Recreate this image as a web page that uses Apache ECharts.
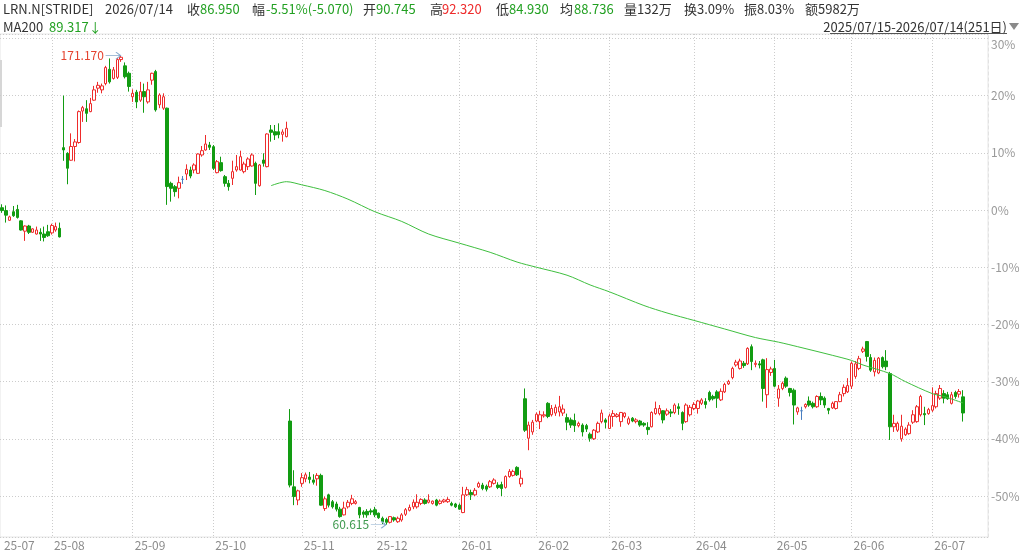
<!DOCTYPE html>
<html>
<head>
<meta charset="utf-8">
<script src="https://cdn.jsdelivr.net/npm/echarts@6/dist/echarts.min.js"></script>
<style>html,body{margin:0;padding:0;background:#fff;}#c{width:1024px;height:553px;}</style>
</head>
<body>
<div id="c"></div>
<script>
// ---------- data ----------
const basePrice = 134.7795; // price at 0%
const tradingDays = {
  '2025-07': [15,16,17,18,21,22,23,24,25,28,29,30,31],
  '2025-08': [1,4,5,6,7,8,11,12,13,14,15,18,19,20,21,22,25,26,27,28,29],
  '2025-09': [2,3,4,5,8,9,10,11,12,15,16,17,18,19,22,23,24,25,26,29,30],
  '2025-10': [1,2,3,6,7,8,9,10,13,14,15,16,17,20,21,22,23,24,27,28,29,30,31],
  '2025-11': [3,4,5,6,7,10,11,12,13,14,17,18,19,20,21,24,25,26,28],
  '2025-12': [1,2,3,4,5,8,9,10,11,12,15,16,17,18,19,22,23,24,26,29,30,31],
  '2026-01': [2,5,6,7,8,9,12,13,14,15,16,20,21,22,23,26,27,28,29,30],
  '2026-02': [2,3,4,5,6,9,10,11,12,13,17,18,19,20,23,24,25,26,27],
  '2026-03': [2,3,4,5,6,9,10,11,12,13,16,17,18,19,20,23,24,25,26,27,30,31],
  '2026-04': [1,2,6,7,8,9,10,13,14,15,16,17,20,21,22,23,24,27,28,29,30],
  '2026-05': [1,4,5,6,7,8,11,12,13,14,15,18,19,20,21,22,26,27,28,29],
  '2026-06': [1,2,3,4,5,8,9,10,11,12,15,16,17,18,22,23,24,25,26,29,30],
  '2026-07': [1,2,6,7,8,9,10,13,14]
};

// percent change vs base, per trading day
const openPct = [
  0.4, -0.1, -1.8, -0.3, 0.1, -1.9, -3.7, -2.8, -3.9, -4.2,
  -3.9, -4.2, -3.8, -4.0, -3.5, -3.2, 10.9, 9.9, 8.7, 11.1,
  11.8, 17.3, 17.7, 17.2, 19.2, 21.3, 21.0, 22.1, 24.6, 23.0,
  23.2, 26.3, 25.2, 23.9, 19.8, 20.6, 19.2, 20.7, 18.9, 22.7,
  24.2, 18.4, 17.8, 17.8, 4.66, 4.08, 3.79, 5.36, 6.29, 6.99,
  6.99, 6.41, 9.62, 10.49, 11.36, 11.07, 6.53, 8.28, 5.83, 4.66,
  5.54, 6.99, 6.99, 6.70, 7.58, 7.69, 8.16, 4.25, 8.74, 7.58,
  13.99, 13.69, 13.69, 13.23, 12.82, -36.9, -48.4, -50.7, -47.8, -47.0,
  -46.7, -47.2, -47.0, -46.4, -52.2, -49.8, -51.0, -51.4, -52.3, -53.3,
  -51.9, -51.3, -51.3, -52.0, -52.8, -52.7, -52.6, -52.4, -53.0, -53.9,
  -54.1, -54.6, -53.8, -54.5, -54.2, -53.2, -52.5, -51.9, -51.9, -51.3,
  -50.7, -51.1, -51.3, -50.7, -51.3, -51.0, -51.0, -51.3, -51.4, -51.6,
  -52.9, -49.8, -49.4, -49.8, -48.4, -48.1, -48.3, -48.4, -47.8, -48.1,
  -48.0, -48.5, -46.6, -46.4, -45.0, -47.9, -33.0, -39.9, -38.8, -36.9,
  -37.0, -36.0, -33.8, -35.8, -35.5, -35.3, -35.5, -36.3, -36.7, -36.8,
  -37.7, -37.6, -37.7, -39.2, -40.0, -38.8, -37.0, -36.7, -38.2, -36.1,
  -36.1, -37.0, -36.1, -37.3, -36.4, -37.0, -36.9, -37.3, -38.0, -37.9,
  -35.6, -35.6, -35.1, -35.7, -35.3, -35.4, -34.4, -35.4, -37.0, -35.8,
  -34.7, -34.7, -33.8, -33.5, -31.9, -32.6, -31.8, -33.2, -31.8, -30.4,
  -29.3, -27.1, -27.7, -26.8, -26.9, -23.9, -27.0, -26.9, -26.2, -32.3,
  -28.4, -27.7, -32.9, -31.2, -29.4, -31.2, -31.5, -35.3, -35.1, -34.4,
  -33.4, -33.8, -34.4, -32.6, -32.9, -34.7, -34.6, -34.7, -33.5, -32.1,
  -31.8, -30.8, -29.1, -27.7, -24.7, -23.0, -25.8, -28.3, -28.5, -25.8,
  -26.4, -28.6, -37.9, -38.5, -40.0, -39.3, -39.1, -37.1, -37.0, -35.8,
  -35.6, -35.6, -35.0, -34.4, -32.9, -32.1, -32.3, -33.8, -31.9, -32.2,
  -32.67
];
const highPct = [
  1.0, 0.8, -1.0, 0.7, 0.9, -1.8, -2.7, -2.6, -3.2, -2.9,
  -3.2, -2.9, -2.6, -2.4, -2.2, -2.2, 20.0, 10.1, 13.4, 12.4,
  17.4, 18.2, 19.2, 19.6, 21.7, 22.4, 22.1, 25.2, 26.5, 25.0,
  26.6, 27.0, 25.8, 24.2, 21.1, 21.0, 22.4, 22.1, 22.4, 24.0,
  24.5, 20.4, 20.4, 17.9, 4.95, 4.37, 5.83, 5.94, 7.98, 7.58,
  8.16, 9.9, 11.19, 13.11, 11.9, 11.36, 8.74, 9.32, 6.12, 5.24,
  8.62, 9.62, 10.37, 8.45, 9.21, 9.91, 8.45, 8.04, 9.91, 13.4,
  14.86, 14.86, 15.15, 14.10, 15.44, -34.8, -45.5, -48.9, -46.0, -45.9,
  -45.8, -46.2, -46.0, -46.1, -50.1, -49.6, -50.7, -51.0, -51.9, -51.0,
  -50.7, -49.8, -50.7, -51.9, -52.5, -52.3, -52.2, -51.9, -52.9, -53.6,
  -53.8, -53.5, -53.6, -53.6, -53.0, -52.1, -51.5, -50.6, -49.7, -50.4,
  -50.4, -49.7, -50.8, -50.5, -50.6, -50.5, -50.2, -51.0, -51.2, -51.3,
  -48.4, -48.4, -48.9, -48.6, -47.5, -47.7, -48.0, -47.2, -46.9, -47.6,
  -47.5, -46.4, -45.3, -45.4, -44.8, -45.5, -31.2, -37.0, -36.7, -35.4,
  -35.1, -35.2, -33.6, -34.1, -34.0, -32.5, -34.0, -35.6, -36.3, -35.6,
  -37.0, -37.3, -37.4, -38.9, -38.3, -37.0, -34.9, -36.4, -35.6, -35.0,
  -35.5, -35.3, -35.4, -36.1, -36.2, -36.4, -36.7, -37.1, -37.1, -35.2,
  -33.5, -34.1, -35.0, -34.7, -34.8, -33.8, -33.8, -35.2, -33.8, -34.1,
  -33.6, -33.2, -32.9, -32.9, -31.6, -32.3, -31.5, -31.2, -30.2, -29.7,
  -27.4, -26.2, -26.0, -26.4, -24.0, -23.5, -26.3, -26.4, -26.0, -25.9,
  -27.4, -26.2, -30.6, -30.0, -29.1, -31.1, -31.2, -34.4, -34.4, -33.8,
  -32.6, -33.5, -32.4, -31.9, -32.6, -34.6, -33.5, -33.4, -31.8, -30.5,
  -29.4, -26.5, -26.4, -25.5, -23.9, -22.9, -25.2, -25.8, -25.7, -25.6,
  -24.5, -28.3, -35.8, -37.0, -35.8, -38.0, -37.1, -35.0, -34.1, -32.3,
  -34.4, -34.6, -31.0, -31.6, -30.6, -31.5, -31.8, -31.8, -31.6, -31.3,
  -31.50
];
const lowPct = [
  -0.5, -2.2, -1.9, -1.2, -1.5, -3.6, -5.4, -4.2, -4.0, -4.3,
  -5.4, -5.5, -4.7, -4.3, -3.8, -4.8, 8.6, 4.5, 8.6, 8.5,
  11.6, 15.4, 15.4, 17.1, 19.1, 20.5, 20.4, 21.8, 22.1, 22.8,
  22.9, 25.9, 23.0, 20.7, 18.9, 17.8, 18.9, 17.0, 18.6, 21.9,
  17.2, 17.8, 17.5, 0.9, 1.46, 2.33, 2.04, 4.55, 5.24, 5.54,
  6.41, 6.29, 9.32, 10.37, 10.5, 6.99, 6.41, 6.70, 4.08, 3.38,
  4.37, 6.70, 6.88, 6.41, 6.99, 7.58, 2.62, 4.08, 7.58, 7.46,
  11.95, 12.24, 12.53, 11.95, 12.70, -48.5, -51.6, -51.6, -48.4, -47.6,
  -47.8, -48.0, -48.2, -51.7, -52.6, -52.0, -52.2, -52.7, -53.8, -53.4,
  -52.2, -51.6, -51.5, -53.9, -53.8, -53.8, -53.3, -53.7, -54.0, -54.9,
  -55.0266, -54.8, -54.5, -54.7, -54.5, -53.5, -52.7, -52.3, -52.2, -51.6,
  -51.5, -51.3, -51.5, -51.8, -51.5, -51.2, -51.2, -51.8, -52.1, -52.4,
  -53.0, -50.0, -50.7, -50.0, -48.6, -49.0, -49.2, -48.6, -48.0, -48.8,
  -50.0, -48.7, -46.8, -46.6, -46.5, -48.4, -38.8, -42.0, -39.3, -37.1,
  -38.3, -36.3, -36.4, -36.1, -36.0, -36.1, -36.0, -38.5, -38.1, -38.8,
  -38.0, -39.6, -38.8, -40.5, -40.2, -39.0, -37.3, -38.2, -38.3, -37.9,
  -36.3, -37.9, -36.4, -37.6, -37.1, -37.3, -37.9, -37.9, -39.3, -38.0,
  -35.8, -35.9, -37.3, -36.0, -36.2, -35.7, -35.8, -38.5, -37.2, -36.1,
  -35.0, -35.6, -34.1, -34.7, -33.5, -33.3, -34.6, -33.4, -32.0, -30.6,
  -29.6, -27.4, -27.9, -27.6, -27.1, -28.0, -27.5, -27.7, -33.5, -34.6,
  -29.0, -31.0, -34.4, -31.5, -31.1, -32.6, -37.5, -35.8, -36.7, -34.7,
  -34.4, -34.7, -34.6, -34.1, -34.6, -35.7, -34.8, -34.9, -33.6, -32.6,
  -32.0, -31.3, -29.5, -28.0, -25.0, -26.5, -28.3, -29.1, -28.7, -27.7,
  -28.0, -40.2, -38.8, -38.8, -40.5, -39.5, -39.3, -37.4, -37.2, -36.1,
  -37.6, -35.8, -35.3, -34.7, -33.2, -33.8, -33.2, -34.0, -33.0, -32.8,
  -36.99
];
const closePct = [
  -0.1, -0.9, -1.2, -1.0, -1.3, -3.5, -2.8, -3.9, -3.3, -3.5,
  -4.2, -4.8, -4.5, -2.7, -2.9, -4.7, 10.5, 7.3, 11.1, 11.9,
  17.2, 17.9, 16.9, 18.6, 21.0, 21.8, 21.7, 24.9, 22.4, 24.5,
  26.3, 26.7, 23.3, 21.6, 20.4, 18.9, 20.7, 19.8, 21.0, 23.9,
  17.5, 20.1, 19.8, 4.1, 3.79, 3.21, 4.78, 5.36, 7.11, 5.94,
  7.87, 9.79, 10.37, 11.54, 10.96, 7.28, 8.45, 6.88, 4.66, 4.08,
  6.70, 7.58, 9.32, 8.04, 8.92, 9.62, 4.66, 7.87, 8.16, 13.29,
  13.58, 13.11, 13.17, 13.64, 14.28, -48.1, -50.1, -49.1, -46.8, -46.3,
  -47.1, -47.6, -46.4, -51.6, -50.5, -51.6, -51.9, -52.3, -53.6, -52.1,
  -51.1, -50.5, -51.0, -53.3, -53.2, -53.3, -52.8, -53.3, -53.8, -54.5,
  -54.6, -53.6, -54.2, -53.9, -53.3, -52.4, -52.0, -51.1, -51.1, -50.6,
  -51.3, -50.7, -50.9, -51.6, -50.9, -50.7, -50.6, -51.6, -51.9, -52.3,
  -49.8, -48.9, -49.8, -49.0, -47.8, -48.7, -48.8, -47.5, -47.2, -48.5,
  -48.7, -46.6, -45.7, -45.7, -46.3, -46.9, -38.5, -37.6, -37.1, -35.7,
  -35.8, -35.8, -36.1, -34.7, -34.5, -34.4, -34.8, -37.1, -37.6, -37.7,
  -37.3, -38.8, -38.3, -39.9, -38.5, -37.3, -35.5, -37.1, -36.0, -35.6,
  -35.8, -35.4, -35.5, -36.5, -36.9, -36.7, -37.6, -37.6, -38.4, -35.4,
  -34.7, -34.7, -36.7, -35.1, -35.5, -34.1, -34.7, -37.3, -34.1, -34.5,
  -34.0, -33.4, -33.2, -34.0, -33.2, -33.0, -32.9, -31.7, -30.5, -30.0,
  -27.7, -26.6, -26.4, -27.2, -24.2, -26.5, -26.8, -27.1, -31.2, -27.9,
  -27.8, -30.8, -31.3, -30.3, -30.8, -31.9, -34.1, -34.6, -35.1, -34.0,
  -34.1, -34.4, -32.6, -33.2, -34.1, -35.0, -33.8, -33.5, -32.3, -31.0,
  -30.7, -26.8, -26.9, -26.0, -24.3, -25.6, -28.0, -26.3, -25.9, -27.4,
  -27.4, -37.9, -37.3, -37.3, -37.8, -38.3, -37.6, -35.8, -34.4, -32.6,
  -35.8, -34.9, -34.2, -32.1, -31.2, -32.9, -33.0, -32.3, -32.6, -31.73,
  -35.49
];

// MA200 values read at selected days
const maDates = ['2025-10-22','2025-10-28','2025-11-03','2025-11-11','2025-11-19','2025-12-01','2025-12-10','2025-12-19',
  '2026-01-02','2026-01-14','2026-01-26','2026-02-02','2026-02-12','2026-02-23','2026-03-02','2026-03-13','2026-03-23',
  '2026-04-01','2026-04-14','2026-04-24','2026-05-04','2026-05-11','2026-05-22','2026-06-01','2026-06-04','2026-06-15',
  '2026-06-22','2026-07-01','2026-07-07','2026-07-14'];
const maValues = [4.25, 4.95, 4.4, 3.4, 1.9, -0.3, -2.0, -4.2,
  -5.8, -7.4, -9.1, -10.0, -11.4, -13.1, -14.3, -16.7, -18.0,
  -19.3, -20.8, -22.3, -23.1, -23.9, -25.4, -26.3, -27.1, -28.6,
  -30.0, -32.1, -32.6, -33.73];

// ---------- build ----------
const categories = [];
Object.keys(tradingDays).forEach(m => tradingDays[m].forEach(d => categories.push(m + '-' + String(d).padStart(2, '0'))));
const isMonthStart = i => i >= 0 && i < categories.length && (i === 0 || categories[i].slice(0, 7) !== categories[i - 1].slice(0, 7));
const candleData = categories.map((c, i) => [openPct[i], closePct[i], lowPct[i], highPct[i]]);
const maData = maDates.map((d, i) => [d, maValues[i]]);

const FONT = '"Noto Sans CJK SC", "Liberation Sans", sans-serif';
const RED = '#ee2b2b', GREEN = '#129c12', TGREEN = '#22a022', TXT = '#333333';

function txt(t, x, y, fill, extra) {
  return { type: 'text', x: x, y: y, silent: true,
    style: Object.assign({ text: t, fill: fill, fontSize: 13, fontFamily: FONT, verticalAlign: 'middle', align: 'left' }, extra || {}) };
}

const chart = echarts.init(document.getElementById('c'), null, { renderer: 'canvas' });
const option = {
  animation: false,
  backgroundColor: '#ffffff',
  textStyle: { fontFamily: FONT },
  grid: { left: 0, right: 36, top: 34, bottom: 16, show: true, borderColor: '#e6e6e6', borderWidth: 1,
    backgroundColor: 'transparent', containLabel: false, outerBoundsMode: 'none' },
  xAxis: {
    type: 'category', data: categories, boundaryGap: true, max: categories.length + 5,
    axisLine: { show: false }, axisTick: { show: false },
    axisLabel: { interval: (i) => isMonthStart(i), formatter: v => (v ? v.slice(2, 7) : ''),
      align: 'left', color: '#8c8c8c', fontSize: 12, margin: 2, padding: [0, 0, 0, 2] },
    splitLine: { show: true, interval: (i) => i > 0 && isMonthStart(i), alignWithLabel: true,
      lineStyle: { color: '#cccccc', type: [1, 2], width: 1 } }
  },
  yAxis: {
    type: 'value', position: 'right', min: -57.17, max: 30.77, splitNumber: 9,
    axisLine: { show: true, lineStyle: { color: '#e2e2e2', type: [3, 3] } },
    axisTick: { show: false },
    axisLabel: { color: '#9a9a9a', fontSize: 12, margin: 3, showMinLabel: false, showMaxLabel: false,
      formatter: v => { const r = Math.round(v); return r === 30 ? '{t|' + r + '%}' : r + '%'; },
      rich: { t: { color: '#9a9a9a', fontSize: 12, padding: [13, 0, 0, 0] } } },
    splitLine: { show: true, lineStyle: { color: '#cccccc', type: [1, 2], width: 1 } }
  },
  series: [
    {
      type: 'candlestick', name: 'K', data: candleData, barWidth: 3,
      itemStyle: { color: '#ffffff', color0: GREEN, borderColor: RED, borderColor0: GREEN,
        borderColorDoji: '#4a7fc1', borderWidth: 1 },
      markPoint: {
        symbol: 'path://M0,4 L13,4 M9,1 L13,4 L9,7',
        symbolSize: [15, 7], symbolOffset: [-8, 0],
        itemStyle: { color: 'transparent', borderColor: '#86a9cc', borderWidth: 1 },
        label: { show: true, position: 'left', distance: 1, fontSize: 12, fontFamily: FONT,
          formatter: p => (basePrice * (1 + p.value / 100)).toFixed(3) },
        data: [
          { type: 'max', valueDim: 'highest', label: { color: '#e5432f' } },
          { type: 'min', valueDim: 'lowest', label: { color: '#3f9a4f' } }
        ]
      }
    },
    {
      type: 'line', name: 'MA200', data: maData, symbol: 'none', showSymbol: false, connectNulls: true,
      smooth: 0.3, lineStyle: { color: '#3fbf3f', width: 1 }, z: 3, silent: true
    }
  ],
  graphic: [
    txt('LRN.N[STRIDE]', 3, 9, TXT),
    txt('2026/07/14', 105, 9, TXT),
    txt('收', 187, 9, TXT), txt('86.950', 200, 9, TGREEN),
    txt('幅', 252, 9, TXT), txt('-5.51%(-5.070)', 266, 9, TGREEN),
    txt('开', 363, 9, TXT), txt('90.745', 376, 9, TGREEN),
    txt('高', 430, 9, TXT), txt('92.320', 442, 9, RED),
    txt('低', 496, 9, TXT), txt('84.930', 509, 9, TGREEN),
    txt('均', 560, 9, TXT), txt('88.736', 574, 9, TGREEN),
    txt('量132万', 624, 9, TXT),
    txt('换3.09%', 684, 9, TXT),
    txt('振8.03%', 744, 9, TXT),
    txt('额5982万', 805, 9, TXT),
    txt('MA200', 3, 27, TXT), txt('89.317↓', 49, 27, TGREEN),
    txt('2025/07/15-2026/07/14(251日)', 1007, 27, TXT, { align: 'right' }),
    { type: 'line', silent: true, shape: { x1: 830, y1: 33.5, x2: 1007, y2: 33.5 }, style: { stroke: '#555', lineWidth: 1 } },
    { type: 'polygon', silent: true, shape: { points: [[1009, 23], [1019, 23], [1014, 30]] }, style: { fill: '#8a8a8a' } },
    { type: 'rect', silent: true, shape: { x: 0, y: 60, width: 2, height: 67 }, style: { fill: '#d6d6d6' } }
  ]
};
chart.setOption(option);
</script>
</body>
</html>
